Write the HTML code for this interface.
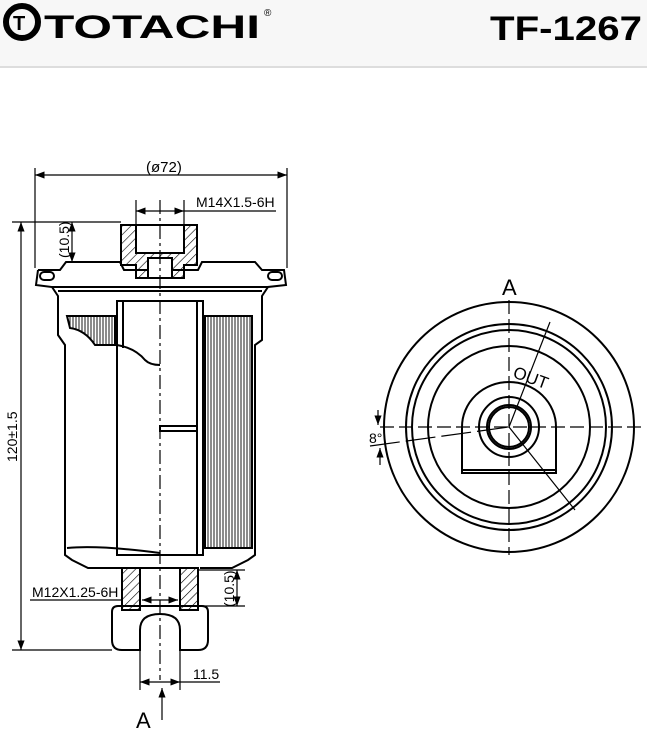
<!DOCTYPE html>
<html><head><meta charset="utf-8"><style>
html,body{margin:0;padding:0;background:#fff;}
.hdr{position:absolute;left:0;top:0;width:647px;height:66px;background:#f7f7f7;border-bottom:2px solid #ddd;}
</style></head><body>
<div class="hdr"></div>
<svg width="647" height="735" style="position:absolute;left:0;top:0" xmlns="http://www.w3.org/2000/svg">
<defs>
<pattern id="h" width="6" height="6" patternUnits="userSpaceOnUse" patternTransform="rotate(45)"><line x1="0" y1="0" x2="0" y2="6" stroke="#000" stroke-width="1.2"/></pattern>
<pattern id="v" width="3" height="10" patternUnits="userSpaceOnUse"><line x1="1" y1="0" x2="1" y2="10" stroke="#000" stroke-width="0.9"/></pattern>
<marker id="a" markerWidth="8" markerHeight="6" refX="8" refY="3" orient="auto-start-reverse"><path d="M0,0 L8,3 L0,6" fill="#000"/></marker>
</defs>
<!-- header -->
<g font-family="Liberation Sans, sans-serif" font-weight="bold">
<circle cx="22" cy="22" r="16" fill="none" stroke="#000" stroke-width="6"/>
<text x="13" y="30" font-size="20">T</text>
<text x="44" y="38" font-size="32" textLength="216" lengthAdjust="spacingAndGlyphs">TOTACHI</text>
<text x="264" y="16" font-size="10" font-weight="normal">®</text>
<text x="490" y="40" font-size="34" textLength="152" lengthAdjust="spacingAndGlyphs">TF-1267</text>
</g>
<g fill="none" stroke="#000" stroke-width="2">
<!-- flange -->
<path d="M38,270 L60,270 L66,262 L120,262 L124,270 L198,270 L202,262 L255,262 L262,270 L284,270 L286,285 L268,287 L262,296 L262,340 L255,345 L255,555 L248,560 L232,568 L200,568"/>
<path d="M38,270 L36,285 L52,287 L58,296 L58,335 L65,345 L65,555 L72,560 L88,568 L122,568"/>
<line x1="52" y1="287" x2="268" y2="287"/>
<line x1="58" y1="291" x2="262" y2="291"/>
<rect x="40" y="272" width="14" height="8" rx="4"/>
<rect x="268" y="272" width="14" height="8" rx="4"/>
<!-- top nipple -->
<path d="M121,225 L197,225 L197,265 L184,265 L184,278 L136,278 L136,265 L121,265 Z" fill="url(#h)"/>
<rect x="136" y="225" width="48" height="28" fill="#fff"/>
<path d="M148,258 L172,258 L172,278 L148,278 Z" fill="#fff"/>
<!-- inner tube -->
<rect x="117" y="301" width="86" height="254" fill="#fff"/>
<line x1="123" y1="301" x2="123" y2="348"/>
<line x1="197" y1="301" x2="197" y2="555"/>
<rect x="160" y="426" width="37" height="5"/>
<!-- pleats -->
<rect x="205" y="316" width="47" height="232" fill="url(#v)"/>
<path d="M67,316 L115,316 L115,345 L95,345 Q85,330 70,328 Z" fill="url(#v)"/>
<path d="M117,345 Q135,348 145,360 Q150,365 160,365"/>
<path d="M67,548 Q100,545 160,553"/>
<!-- bottom nipple -->
<rect x="122" y="568" width="18" height="42" fill="url(#h)"/>
<rect x="180" y="568" width="18" height="42" fill="url(#h)"/>
<line x1="140" y1="568" x2="180" y2="568"/>
<path d="M118,606 L202,606 Q208,606 208,612 L208,640 Q208,650 198,650 L180,650 L180,630 Q180,614 160,614 Q140,614 140,630 L140,650 L122,650 Q112,650 112,640 L112,612 Q112,606 118,606 Z"/>
</g>
<!-- center line -->
<line x1="160" y1="200" x2="160" y2="680" stroke="#000" stroke-width="1.2" stroke-dasharray="14,4,3,4"/>
<!-- dimensions -->
<g stroke="#000" stroke-width="1.2" fill="none">
<line x1="35" y1="175" x2="287" y2="175" marker-start="url(#a)" marker-end="url(#a)"/>
<line x1="35" y1="168" x2="35" y2="268"/><line x1="287" y1="168" x2="287" y2="268"/>
<line x1="136" y1="200" x2="136" y2="225"/><line x1="184" y1="200" x2="184" y2="225"/>
<line x1="136" y1="211" x2="184" y2="211" marker-start="url(#a)" marker-end="url(#a)"/><line x1="184" y1="211" x2="276" y2="211"/>
<line x1="12" y1="222" x2="121" y2="222"/><line x1="12" y1="650" x2="112" y2="650"/>
<line x1="21" y1="222" x2="21" y2="650" marker-start="url(#a)" marker-end="url(#a)"/>
<line x1="72" y1="222" x2="72" y2="262" marker-start="url(#a)" marker-end="url(#a)"/>
<line x1="30" y1="600" x2="122" y2="600"/>
<line x1="142" y1="600" x2="178" y2="600" marker-start="url(#a)" marker-end="url(#a)"/>
<line x1="198" y1="570" x2="245" y2="570"/><line x1="198" y1="606" x2="245" y2="606"/>
<line x1="237" y1="570" x2="237" y2="606" marker-start="url(#a)" marker-end="url(#a)"/>
<line x1="140" y1="650" x2="140" y2="690"/><line x1="180" y1="650" x2="180" y2="690"/>
<line x1="140" y1="682" x2="180" y2="682" marker-start="url(#a)" marker-end="url(#a)"/>
<line x1="180" y1="682" x2="220" y2="682"/>
<line x1="162" y1="720" x2="162" y2="688" marker-end="url(#a)"/>
</g>
<g font-family="Liberation Sans Narrow, Liberation Sans, sans-serif" font-size="15" fill="#000">
<text x="146" y="172">(ø72)</text>
<text x="196" y="207" font-size="14">M14X1.5-6H</text>
<text x="32" y="597" font-size="14">M12X1.25-6H</text>
<text x="193" y="679" font-size="14">11.5</text>
<text transform="translate(17,462) rotate(-90)" font-size="14">120±1.5</text>
<text transform="translate(69,258) rotate(-90)" font-size="14">(10.5)</text>
<text transform="translate(234,607) rotate(-90)" font-size="14">(10.5)</text>
<text x="136" y="728" font-size="22">A</text>
<text x="502" y="295" font-size="22">A</text>
<text x="369" y="443" font-size="14">8°</text>
<text transform="translate(512,377) rotate(20)" font-size="17">OUT</text>
</g>
<!-- right view -->
<g fill="none" stroke="#000" stroke-width="2">
<circle cx="509" cy="427" r="125"/>
<circle cx="509" cy="427" r="103"/>
<circle cx="509" cy="427" r="97"/>
<circle cx="509" cy="427" r="81"/>
<path d="M462,473 L462,427 A47,45 0 0 1 556,427 L556,473 Z"/>
<line x1="462" y1="470" x2="556" y2="470"/>
<circle cx="509" cy="427" r="30"/>
<circle cx="509" cy="427" r="22"/>
<circle cx="509" cy="427" r="20"/>
</g>
<g stroke="#000" stroke-width="1.2" fill="none">
<line x1="380" y1="427" x2="645" y2="427" stroke-dasharray="14,5"/>
<line x1="509" y1="300" x2="509" y2="555" stroke-dasharray="14,5"/>
<line x1="370" y1="446" x2="509" y2="427" stroke-dasharray="30,6"/>
<line x1="509" y1="427" x2="550" y2="322"/>
<line x1="509" y1="427" x2="575" y2="510"/>
<line x1="378" y1="410" x2="378" y2="425" marker-end="url(#a)"/>
<line x1="380" y1="465" x2="380" y2="448" marker-end="url(#a)"/>
</g>
</svg>
</body></html>
